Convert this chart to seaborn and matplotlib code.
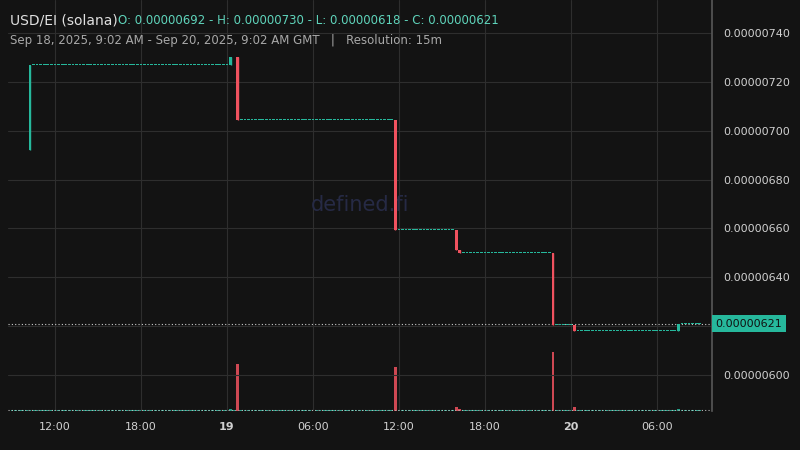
import numpy as np
import matplotlib
matplotlib.use("Agg")
import matplotlib.pyplot as plt
import seaborn as sns

# ---- data (hours since Sep 18 00:00 GMT, prices in 1e-8 units) ----
start_hour = 9.0
end_hour = 57.0
event_times = [10.25, 24.25, 24.75, 35.75, 40.0, 40.25, 46.75, 48.25, 55.5]
event_open  = [692, 727, 730, 704.5, 659.5, 651, 650, 620.5, 618]
event_high  = [727, 730, 730, 704.5, 659.5, 651, 650, 620.5, 621]
event_low   = [692, 727, 704.5, 659.5, 651, 650, 620.5, 618, 618]
event_close = [727, 730, 704.5, 659.5, 651, 650, 620.5, 618, 621]
event_vol   = [1.0, 1.5, 47, 44, 4, 2, 59, 4, 1.5]
flat_vol = 0.4
first_price = 692
last_price = 621
tick_hours = [12, 18, 24, 30, 36, 42, 48, 54]
tick_labels = ["12:00", "18:00", "19", "06:00", "12:00", "18:00", "20", "06:00"]
price_ticks = [600, 620, 640, 660, 680, 700, 720, 740]

# build 15m candles
times = np.arange(start_hour, end_hour + 0.001, 0.25)
O, H, L, C, V = [], [], [], [], []
price = first_price
ev = {round(t, 2): i for i, t in enumerate(event_times)}
for t in times:
    i = ev.get(round(t, 2))
    if i is not None:
        O.append(event_open[i]); H.append(event_high[i]); L.append(event_low[i])
        C.append(event_close[i]); V.append(event_vol[i]); price = event_close[i]
    else:
        O.append(price); H.append(price); L.append(price); C.append(price); V.append(flat_vol)
O, H, L, C, V = map(np.array, (O, H, L, C, V))

sns.set_theme(style="dark")
bg = "#131313"
green = "#26b89c"
red = "#f0525f"
fig = plt.figure(figsize=(8, 4.5), dpi=100, facecolor=bg)
ax = fig.add_axes([0.01, 0.087, 0.88, 0.913], facecolor=bg)
axv = ax.twinx()
axv.set_zorder(ax.get_zorder() - 1)
ax.patch.set_visible(False)
axv.set_facecolor(bg)

w = 0.25 * 0.75
up = C >= O
cols = np.where(up, green, red)
bottoms = np.minimum(O, C)
heights = np.maximum(np.abs(C - O), 0.25)
ax.bar(times, heights, bottom=bottoms, width=w, color=cols, align="center",
       linewidth=0, zorder=3)
ax.vlines(times, L, H, color=cols, lw=1, zorder=3)

vcols = [green if u else red for u in up]
axv.bar(times, V, width=w, color=vcols, alpha=0.85, linewidth=0)
axv.set_ylim(0, 59 * 7)
axv.set_yticks([])
axv.grid(False)

ax.set_xlim(8.72, 57.85)
ax.set_ylim(585.3, 753.5)
ax.set_xticks(tick_hours)
ax.set_xticklabels(tick_labels)
for lbl, t in zip(ax.get_xticklabels(), tick_labels):
    lbl.set_fontweight("bold" if len(t) == 2 else "normal")
ax.yaxis.tick_right()
ax.set_yticks(price_ticks)
ax.set_yticklabels(["" if p == 620 else f"{p*1e-8:.8f}" for p in price_ticks])
ax.tick_params(colors="#d0d0d0", labelsize=8, length=0, pad=8)
ax.grid(True, color="#2e2e2e", lw=0.8)
ax.set_axisbelow(True)
for s in ax.spines.values():
    s.set_visible(False)
for s in axv.spines.values():
    s.set_visible(False)
ax.spines["right"].set_visible(True)
ax.spines["right"].set_color("#555555")
ax.axhline(last_price, color="#cccccc", ls=(0, (1, 2)), lw=0.8, zorder=2)
ax.axhline(585.6, color="#bbbbbb", ls=(0, (1, 2)), lw=0.8, zorder=2)
ax.text(1.005, last_price, f"{last_price*1e-8:.8f}", transform=ax.get_yaxis_transform(),
        va="center", ha="left", fontsize=8, color="#111111", zorder=5,
        bbox=dict(boxstyle="square,pad=0.3", fc=green, ec="none"))

ax.text(0.5, 0.5, "defined.fi", transform=ax.transAxes, fontsize=15, color="#262a45",
        ha="center", va="center", zorder=1)
fig.text(0.012, 0.955, "USD/EI (solana)", color="#e0e0e0", fontsize=10, va="center")
fig.text(0.147, 0.955, "O: 0.00000692 - H: 0.00000730 - L: 0.00000618 - C: 0.00000621",
         color="#5fd4bb", fontsize=8.5, va="center")
fig.text(0.012, 0.91, "Sep 18, 2025, 9:02 AM - Sep 20, 2025, 9:02 AM GMT   |   Resolution: 15m",
         color="#a8a8a8", fontsize=8.5, va="center")
fig.savefig("out.png", dpi=100, facecolor=bg)
